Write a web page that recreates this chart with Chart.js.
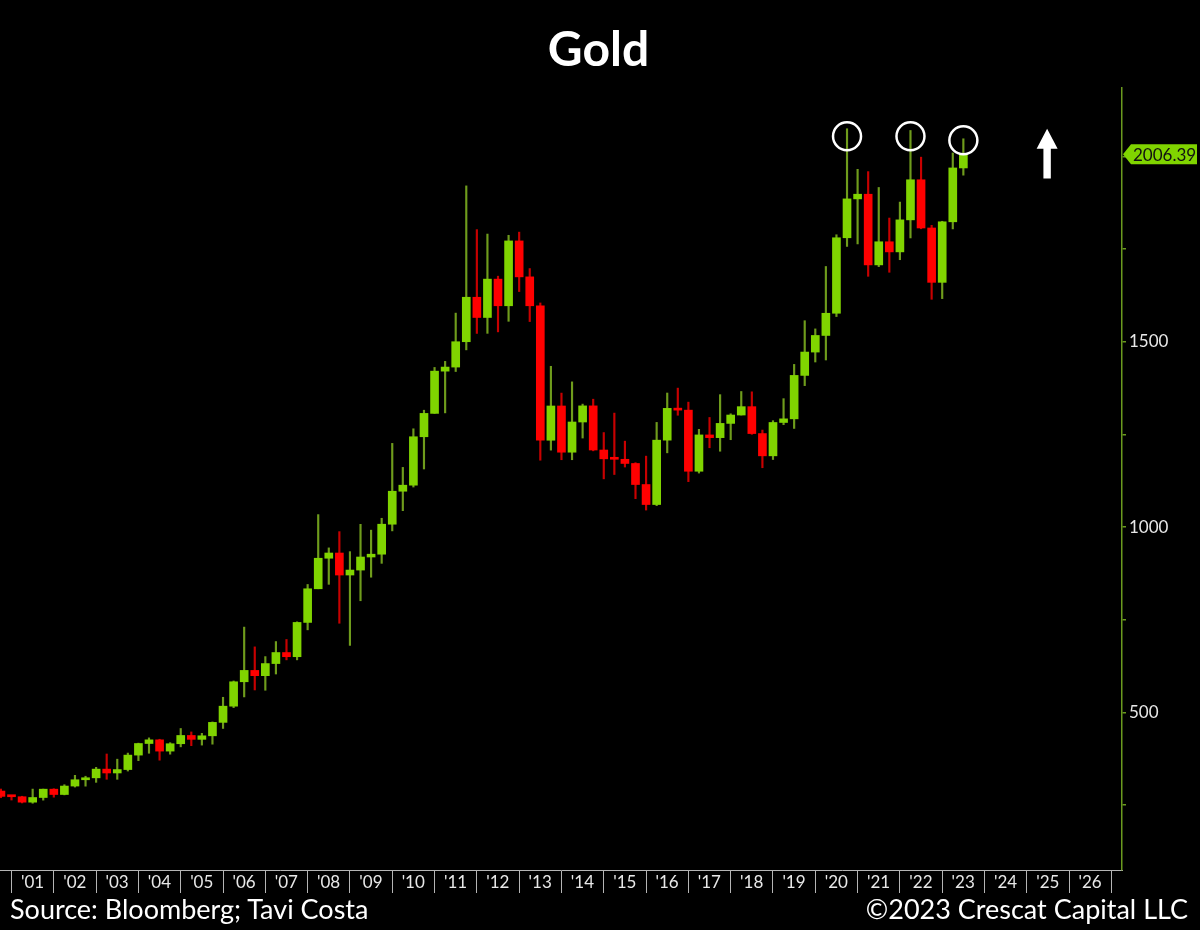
<!DOCTYPE html>
<html>
<head>
<meta charset="utf-8">
<title>Gold</title>
<script src="https://cdn.jsdelivr.net/npm/chart.js@4"></script>
<style>
  body { margin: 0; background: #000; }
  #wrap { position: relative; width: 1200px; height: 930px; background: #000; font-family: Lato, sans-serif; color: #fff; }
  #chart { position: absolute; left: 0; top: 0; }
  #title { position: absolute; left: 0; width: 1197px; top: 23px; text-align: center; font-weight: bold; font-size: 48px; line-height: 50px; }
  .foot { position: absolute; top: 894px; font-size: 27px; line-height: 30px; white-space: nowrap; }
</style>
</head>
<body>
<div id="wrap">
  <canvas id="chart" width="1200" height="930"></canvas>
  <div id="title">Gold</div>
  <div class="foot" style="left:10px">Source: Bloomberg; Tavi Costa</div>
  <div class="foot" style="right:12px">©2023 Crescat Capital LLC</div>
</div>
<script>
// quarterly candles, each plotted at the end of its quarter
const quarters = [
  '2000-Q3','2000-Q4',
  '2001-Q1','2001-Q2','2001-Q3','2001-Q4',
  '2002-Q1','2002-Q2','2002-Q3','2002-Q4',
  '2003-Q1','2003-Q2','2003-Q3','2003-Q4',
  '2004-Q1','2004-Q2','2004-Q3','2004-Q4',
  '2005-Q1','2005-Q2','2005-Q3','2005-Q4',
  '2006-Q1','2006-Q2','2006-Q3','2006-Q4',
  '2007-Q1','2007-Q2','2007-Q3','2007-Q4',
  '2008-Q1','2008-Q2','2008-Q3','2008-Q4',
  '2009-Q1','2009-Q2','2009-Q3','2009-Q4',
  '2010-Q1','2010-Q2','2010-Q3','2010-Q4',
  '2011-Q1','2011-Q2','2011-Q3','2011-Q4',
  '2012-Q1','2012-Q2','2012-Q3','2012-Q4',
  '2013-Q1','2013-Q2','2013-Q3','2013-Q4',
  '2014-Q1','2014-Q2','2014-Q3','2014-Q4',
  '2015-Q1','2015-Q2','2015-Q3','2015-Q4',
  '2016-Q1','2016-Q2','2016-Q3','2016-Q4',
  '2017-Q1','2017-Q2','2017-Q3','2017-Q4',
  '2018-Q1','2018-Q2','2018-Q3','2018-Q4',
  '2019-Q1','2019-Q2','2019-Q3','2019-Q4',
  '2020-Q1','2020-Q2','2020-Q3','2020-Q4',
  '2021-Q1','2021-Q2','2021-Q3','2021-Q4',
  '2022-Q1','2022-Q2','2022-Q3','2022-Q4',
  '2023-Q1','2023-Q2'
];
const opens = [
  288.0, 273.6,
  272.7, 258.0, 270.6, 293.1,
  278.7, 301.5, 318.5, 323.7,
  347.2, 336.8, 346.0, 385.0,
  416.3, 426.2, 395.8, 415.7,
  438.0, 427.5, 437.1, 473.3,
  517.0, 582.9, 613.5, 599.3,
  632.0, 661.8, 650.5, 743.0,
  833.8, 916.2, 930.3, 870.9,
  884.3, 919.5, 927.1, 1008.0,
  1097.0, 1113.3, 1244.0, 1307.0,
  1421.0, 1432.0, 1500.4, 1620.4,
  1565.8, 1669.3, 1597.4, 1772.4,
  1675.4, 1597.4, 1234.6, 1327.0,
  1202.3, 1283.8, 1327.3, 1208.2,
  1184.4, 1183.2, 1171.9, 1115.1,
  1061.1, 1234.8, 1320.6, 1315.8,
  1150.9, 1248.9, 1241.6, 1280.0,
  1302.6, 1325.2, 1252.6, 1192.5,
  1282.5, 1292.3, 1409.5, 1472.5,
  1517.3, 1577.2, 1780.9, 1885.8,
  1898.4, 1707.7, 1770.1, 1742.8,
  1829.2, 1937.4, 1807.3, 1660.6,
  1824.0, 1969.3
];
const highs = [
  293.5, 276.5,
  274.0, 293.3, 293.3, 294.3,
  305.1, 330.5, 328.0, 352.0,
  388.0, 374.0, 390.5, 417.3,
  431.5, 427.8, 418.5, 456.8,
  447.5, 443.7, 474.5, 541.0,
  585.0, 730.4, 677.0, 650.8,
  691.4, 697.0, 744.6, 845.4,
  1033.9, 944.1, 988.0, 934.0,
  1007.7, 992.0, 1024.0, 1226.1,
  1161.3, 1265.5, 1315.6, 1431.0,
  1447.4, 1577.6, 1920.9, 1802.9,
  1790.9, 1677.3, 1787.6, 1796.1,
  1697.8, 1605.0, 1434.1, 1361.8,
  1392.1, 1332.1, 1345.3, 1255.3,
  1307.8, 1232.1, 1174.0, 1191.7,
  1282.7, 1362.0, 1375.2, 1337.4,
  1264.0, 1296.0, 1357.6, 1306.0,
  1366.1, 1365.2, 1262.0, 1287.4,
  1346.8, 1439.2, 1557.1, 1535.0,
  1703.4, 1789.0, 2075.1, 1965.6,
  1959.4, 1916.6, 1834.1, 1877.2,
  2070.4, 1998.4, 1814.4, 1825.4,
  2009.7, 2048.0
];
const lows = [
  270.0, 263.8,
  255.9, 255.1, 263.5, 271.5,
  277.7, 298.8, 301.2, 311.5,
  319.8, 319.7, 342.0, 370.0,
  390.0, 371.3, 387.5, 407.3,
  410.5, 412.0, 414.5, 456.9,
  513.1, 542.0, 560.8, 560.0,
  603.8, 642.0, 642.0, 723.0,
  833.8, 845.8, 740.8, 681.0,
  801.5, 865.0, 902.4, 990.0,
  1044.5, 1108.3, 1157.0, 1307.0,
  1308.4, 1420.0, 1478.4, 1522.8,
  1523.0, 1527.0, 1555.5, 1635.8,
  1554.8, 1180.7, 1207.9, 1182.0,
  1182.0, 1240.5, 1206.0, 1130.4,
  1142.1, 1162.3, 1077.0, 1046.2,
  1058.0, 1200.6, 1302.0, 1122.9,
  1146.0, 1214.3, 1204.9, 1236.0,
  1302.5, 1250.6, 1160.4, 1182.6,
  1276.5, 1266.4, 1381.9, 1445.7,
  1451.1, 1568.3, 1757.5, 1764.3,
  1676.9, 1703.0, 1687.8, 1721.7,
  1780.4, 1805.1, 1614.9, 1616.7,
  1804.8, 1949.8
];
const closes = [
  273.6, 272.7,
  258.0, 270.6, 293.1, 278.7,
  301.5, 318.5, 323.7, 347.2,
  336.8, 346.0, 385.0, 416.3,
  426.2, 395.8, 415.7, 438.0,
  427.5, 437.1, 473.3, 517.0,
  582.9, 613.5, 599.3, 632.0,
  661.8, 650.5, 743.0, 833.8,
  916.2, 930.3, 870.9, 884.3,
  919.5, 927.1, 1008.0, 1097.0,
  1113.3, 1244.0, 1307.0, 1421.0,
  1432.0, 1500.4, 1620.4, 1565.8,
  1669.3, 1597.4, 1772.4, 1675.4,
  1597.4, 1234.6, 1327.0, 1202.3,
  1283.8, 1327.3, 1208.2, 1184.4,
  1183.2, 1171.9, 1115.1, 1061.1,
  1234.8, 1320.6, 1315.8, 1150.9,
  1248.9, 1241.6, 1280.0, 1302.6,
  1325.2, 1252.6, 1192.5, 1282.5,
  1292.3, 1409.5, 1472.5, 1517.3,
  1577.2, 1780.9, 1885.8, 1898.4,
  1707.7, 1770.1, 1742.8, 1829.2,
  1937.4, 1807.3, 1660.6, 1824.0,
  1969.3, 2006.39
];

// axis ticks
const firstYear = 2001;
const xTickLabels = ["'01","'02","'03","'04","'05","'06","'07","'08","'09","'10","'11","'12","'13",
                     "'14","'15","'16","'17","'18","'19","'20","'21","'22","'23","'24","'25","'26"];
const yTickValues = [250, 500, 750, 1000, 1250, 1500, 1750, 2000];
const yTickLabels = [500, 1000, 1500];

// marked tops and the arrow
const circleQuarters = ['2020-Q3', '2022-Q1', '2023-Q2'];
const circleLevels = [2055, 2055, 2044];
const arrowYear = 2025.48;
const arrowTip = 2075;
const arrowBase = 1941;

const GREEN = '#80d400';
const RED = '#ff0000';
const AXIS_GREEN = '#6a9a1e';

function quarterEnd(q) {
    const [y, n] = q.split('-Q');
    return Number(y) + Number(n) / 4;
}

const qx = quarters.map(quarterEnd);
const rising = closes.map((c, i) => c >= opens[i]);

Chart.defaults.font.family = 'Lato, sans-serif';

// price tag on the right axis for the last close
const lastTag = {
    id: 'lastTag',
    afterDraw(chart) {
        const { ctx } = chart;
        const y = chart.scales.y;
        const val = closes[closes.length - 1];
        const py = y.getPixelForValue(val);
        const x0 = y.left + 1, x1 = x0 + 8, x2 = 1197, h = 10;
        ctx.save();
        ctx.fillStyle = GREEN;
        ctx.beginPath();
        ctx.moveTo(x0, py);
        ctx.lineTo(x1, py - h);
        ctx.lineTo(x2, py - h);
        ctx.lineTo(x2, py + h);
        ctx.lineTo(x1, py + h);
        ctx.closePath();
        ctx.fill();
        ctx.fillStyle = '#111';
        ctx.font = '17px Lato, sans-serif';
        ctx.textBaseline = 'middle';
        ctx.fillText(val.toFixed(2), x1 + 2, py + 1);
        ctx.restore();
    }
};

// white up arrow
const upArrow = {
    id: 'upArrow',
    afterDatasetsDraw(chart) {
        const { ctx } = chart;
        const cx = chart.scales.x.getPixelForValue(arrowYear);
        const top = chart.scales.y.getPixelForValue(arrowTip);
        const bottom = chart.scales.y.getPixelForValue(arrowBase);
        const head = 20, hw = 10.5, sw = 3.7;
        ctx.save();
        ctx.fillStyle = '#fff';
        ctx.beginPath();
        ctx.moveTo(cx, top);
        ctx.lineTo(cx + hw, top + head);
        ctx.lineTo(cx + sw, top + head);
        ctx.lineTo(cx + sw, bottom);
        ctx.lineTo(cx - sw, bottom);
        ctx.lineTo(cx - sw, top + head);
        ctx.lineTo(cx - hw, top + head);
        ctx.closePath();
        ctx.fill();
        ctx.restore();
    }
};

new Chart(document.getElementById('chart'), {
    type: 'bar',
    data: {
        datasets: [
            {
                label: 'wick',
                data: qx.map((x, i) => ({ x: x, y: [lows[i], highs[i]] })),
                backgroundColor: rising.map(r => r ? '#6f9c1c' : '#c80000'),
                barThickness: 1.5,
                grouped: false,
                order: 2
            },
            {
                label: 'body',
                data: qx.map((x, i) => ({ x: x, y: [opens[i], closes[i]] })),
                backgroundColor: rising.map(r => r ? GREEN : RED),
                barThickness: 8,
                minBarLength: 2,
                grouped: false,
                order: 1
            },
            {
                type: 'scatter',
                label: 'tops',
                data: circleQuarters.map((q, i) => ({ x: quarterEnd(q), y: circleLevels[i] })),
                pointRadius: 14,
                pointBorderWidth: 2.5,
                borderColor: '#fff',
                backgroundColor: 'rgba(0,0,0,0)',
                order: 0
            }
        ]
    },
    options: {
        responsive: false,
        animation: false,
        events: [],
        layout: { autoPadding: false, padding: { top: 88, bottom: 35, left: 0, right: 0 } },
        plugins: {
            legend: { display: false },
            tooltip: { enabled: false }
        },
        scales: {
            x: {
                type: 'linear',
                min: 2000.728,
                max: 2027.25,
                offset: false,
                afterBuildTicks: scale => {
                    scale.ticks = xTickLabels.concat(['']).map((_, i) => ({ value: firstYear + i }));
                },
                afterFit: scale => {
                    scale.height = 25;
                    scale.paddingLeft = 0;
                    scale.paddingRight = 0;
                },
                grid: { offset: false, drawOnChartArea: false, color: '#b4b4b4', tickLength: 23 },
                border: { color: '#b4b4b4' },
                ticks: {
                    color: '#e8e8e8',
                    font: { size: 17 },
                    padding: -21,
                    labelOffset: 21,
                    autoSkip: false,
                    maxRotation: 0,
                    callback: (v, i) => xTickLabels[i] || ''
                }
            },
            y: {
                position: 'right',
                min: 75,
                max: 2185,
                afterBuildTicks: scale => {
                    scale.ticks = yTickValues.map(v => ({ value: v }));
                },
                afterFit: scale => { scale.width = 78; },
                grid: { drawOnChartArea: false, color: AXIS_GREEN, tickLength: 4, lineWidth: 1.5 },
                border: { color: AXIS_GREEN, width: 1.5 },
                ticks: {
                    color: '#e8e8e8',
                    font: { size: 17 },
                    padding: 3,
                    callback: v => yTickLabels.includes(v) ? String(v) : ''
                }
            }
        }
    },
    plugins: [upArrow, lastTag]
});
</script>
</body>
</html>
